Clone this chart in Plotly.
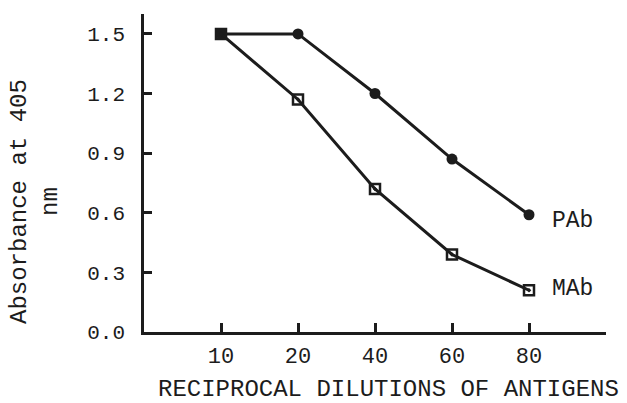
import plotly.graph_objects as go

categories = ["10", "20", "40", "60", "80"]
pab = [1.5, 1.5, 1.2, 0.87, 0.59]
mab = [1.5, 1.17, 0.72, 0.39, 0.21]
y_ticks = [0.0, 0.3, 0.6, 0.9, 1.2, 1.5]

pos = list(range(1, len(categories) + 1))
ink = "#1c1c1c"
font = "Liberation Mono, Courier New, monospace"

fig = go.Figure()
fig.add_trace(go.Scatter(x=pos, y=pab, mode="lines+markers", name="PAb",
                         line=dict(color=ink, width=3),
                         marker=dict(symbol="circle", size=11, color=ink)))
fig.add_trace(go.Scatter(x=pos, y=mab, mode="lines+markers", name="MAb",
                         line=dict(color=ink, width=3),
                         marker=dict(symbol="square-open-dot", size=10, color=ink,
                                     line=dict(width=2.5, color=ink))))

fig.update_layout(
    width=627, height=403,
    margin=dict(l=144, r=21, t=14, b=71),
    paper_bgcolor="white", plot_bgcolor="white",
    showlegend=False,
    font=dict(family=font, color=ink, size=20),
    xaxis=dict(range=[0, len(categories) + 1], tickmode="array",
               tickvals=pos + [len(categories) + 1], ticktext=categories + [""],
               ticks="inside", ticklen=9, tickwidth=2.5, tickcolor=ink,
               showline=True, linewidth=2.5, linecolor=ink, showgrid=False,
               zeroline=False, tickfont=dict(size=22), ticklabelstandoff=2),
    yaxis=dict(range=[0, 1.6], tickmode="array", tickvals=y_ticks,
               tickformat=".1f", ticks="inside", ticklen=8, tickwidth=2.5,
               tickcolor=ink, showline=True, linewidth=2.5, linecolor=ink,
               showgrid=False, zeroline=False, tickfont=dict(size=21),
               ticklabelstandoff=12),
)

fig.add_annotation(text="Absorbance at 405<br>nm", xref="paper", yref="paper",
                   x=(35 - 144) / 462, y=(332 - 202) / 318, xanchor="center",
                   yanchor="middle", textangle=-90, showarrow=False,
                   font=dict(size=24, family=font, color=ink))
fig.add_annotation(text="RECIPROCAL DILUTIONS OF ANTIGENS", xref="paper", yref="paper",
                   x=(388 - 144) / 462, y=-(389 - 332) / 318, xanchor="center",
                   yanchor="middle", showarrow=False,
                   font=dict(size=24, family=font, color=ink))
fig.add_annotation(text="PAb", xref="x", yref="y", x=pos[-1], y=pab[-1],
                   xanchor="left", yanchor="middle", xshift=21, yshift=-6,
                   showarrow=False, font=dict(size=23, family=font, color=ink))
fig.add_annotation(text="MAb", xref="x", yref="y", x=pos[-1], y=mab[-1],
                   xanchor="left", yanchor="middle", xshift=21, yshift=1,
                   showarrow=False, font=dict(size=23, family=font, color=ink))

fig.write_html("out.html", config={"displayModeBar": False},
               post_script="document.body.style.margin='0';document.body.style.overflow='hidden';")
